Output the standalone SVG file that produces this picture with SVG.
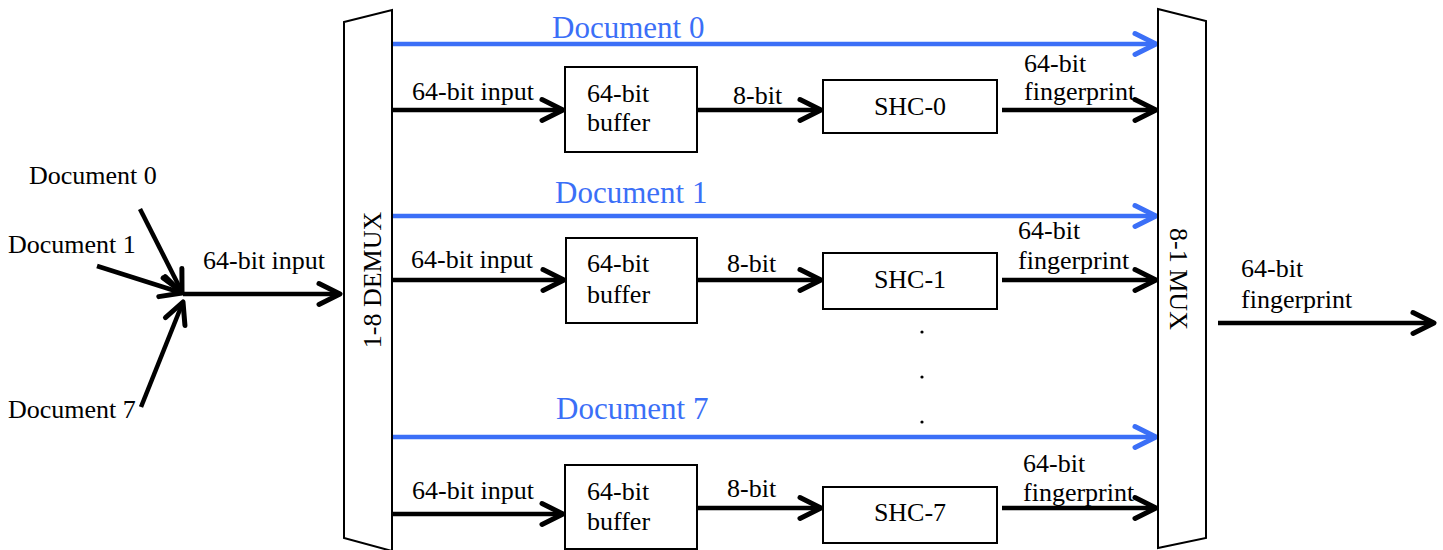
<svg xmlns="http://www.w3.org/2000/svg" width="1443" height="550" viewBox="0 0 1443 550">
<style>
text{font-family:"Liberation Serif","Times New Roman",serif;font-size:26px;fill:#000}
.blue{fill:#3B6FF7;font-size:31px}
.box{fill:#fff;stroke:#000;stroke-width:2}
.bl{stroke:#000;stroke-width:4.5;fill:none}
.bb{stroke:#3B6FF7;stroke-width:4.5;fill:none}
.mid{text-anchor:middle}
</style>
<defs>
<marker id="ak" markerUnits="userSpaceOnUse" markerWidth="30" markerHeight="30" viewBox="-26 -15 30 30" refX="0" refY="0" orient="auto" overflow="visible">
<path d="M-21,-10.5 L0,0 L-21,10.5" fill="none" stroke="#000" stroke-width="5" stroke-linecap="round" stroke-linejoin="round"/>
</marker>
<marker id="ab" markerUnits="userSpaceOnUse" markerWidth="30" markerHeight="30" viewBox="-26 -15 30 30" refX="0" refY="0" orient="auto" overflow="visible">
<path d="M-21,-10.5 L0,0 L-21,10.5" fill="none" stroke="#3B6FF7" stroke-width="5" stroke-linecap="round" stroke-linejoin="round"/>
</marker>
</defs>

<g id="connectors">
<line class="bl" x1="140" y1="209" x2="182" y2="292" marker-end="url(#ak)"/>
<line class="bl" x1="97" y1="266" x2="182" y2="293" marker-end="url(#ak)"/>
<line class="bl" x1="141" y1="407" x2="183" y2="302" marker-end="url(#ak)"/>
<line class="bl" x1="183" y1="294" x2="340" y2="294" marker-end="url(#ak)"/>

<line class="bb" x1="392" y1="44" x2="1156" y2="44" marker-end="url(#ab)"/>
<line class="bb" x1="392" y1="216" x2="1156" y2="216" marker-end="url(#ab)"/>
<line class="bb" x1="392" y1="437" x2="1156" y2="437" marker-end="url(#ab)"/>

<line class="bl" x1="392" y1="110" x2="563" y2="110" marker-end="url(#ak)"/>
<line class="bl" x1="697" y1="110" x2="821" y2="110" marker-end="url(#ak)"/>
<line class="bl" x1="1002" y1="110" x2="1156" y2="110" marker-end="url(#ak)"/>

<line class="bl" x1="392" y1="280" x2="564" y2="280" marker-end="url(#ak)"/>
<line class="bl" x1="697" y1="280" x2="821" y2="280" marker-end="url(#ak)"/>
<line class="bl" x1="1002" y1="280" x2="1156" y2="280" marker-end="url(#ak)"/>

<line class="bl" x1="392" y1="514" x2="563" y2="514" marker-end="url(#ak)"/>
<line class="bl" x1="697" y1="508" x2="821" y2="508" marker-end="url(#ak)"/>
<line class="bl" x1="1002" y1="508" x2="1156" y2="508" marker-end="url(#ak)"/>

<line class="bl" x1="1218" y1="323" x2="1434" y2="323" marker-end="url(#ak)"/>
</g>

<g id="inputs">
<text x="29" y="184">Document 0</text>
<text x="8" y="253">Document 1</text>
<text x="8" y="418">Document 7</text>
<text x="203" y="269">64-bit input</text>
</g>

<g id="demux">
<polygon class="box" points="344,22 392,10 392,551 344,538"/>
<text class="mid" transform="translate(381,280) rotate(-90)">1-8 DEMUX</text>
</g>

<g id="mux">
<polygon class="box" points="1158,9 1206,21 1206,538 1158,548"/>
<text class="mid" transform="translate(1170,279) rotate(90)">8-1 MUX</text>
</g>

<g id="labels">
<text class="blue" x="552" y="38">Document 0</text>
<text class="blue" x="555" y="203">Document 1</text>
<text class="blue" x="556" y="419">Document 7</text>
<text x="412" y="100">64-bit input</text>
<text x="411" y="268">64-bit input</text>
<text x="412" y="499">64-bit input</text>
<text x="733" y="104">8-bit</text>
<text x="727" y="272">8-bit</text>
<text x="727" y="497">8-bit</text>
<text x="1024" y="72">64-bit</text>
<text x="1024" y="100">fingerprint</text>
<text x="1018" y="239">64-bit</text>
<text x="1018" y="269">fingerprint</text>
<text x="1023" y="472">64-bit</text>
<text x="1023" y="501">fingerprint</text>
<text x="1241" y="277">64-bit</text>
<text x="1241" y="308">fingerprint</text>
</g>

<g id="buffer0">
<rect class="box" x="565" y="67" width="132" height="85"/>
<text x="587" y="102">64-bit</text>
<text x="587" y="131">buffer</text>
</g>
<g id="buffer1">
<rect class="box" x="566" y="238" width="131" height="85"/>
<text x="587" y="272">64-bit</text>
<text x="587" y="303">buffer</text>
</g>
<g id="buffer7">
<rect class="box" x="565" y="465" width="132" height="84"/>
<text x="587" y="500">64-bit</text>
<text x="587" y="530">buffer</text>
</g>

<g id="shc0">
<rect class="box" x="823" y="80" width="174" height="53"/>
<text class="mid" x="910" y="115">SHC-0</text>
</g>
<g id="shc1">
<rect class="box" x="823" y="253" width="174" height="56"/>
<text class="mid" x="910" y="288">SHC-1</text>
</g>
<g id="shc7">
<rect class="box" x="823" y="487" width="174" height="56"/>
<text class="mid" x="910" y="521">SHC-7</text>
</g>

<g id="dots">
<circle cx="922" cy="332" r="1.6" fill="#000"/>
<circle cx="922" cy="377" r="1.6" fill="#000"/>
<circle cx="922" cy="422" r="1.6" fill="#000"/>
</g>
</svg>
